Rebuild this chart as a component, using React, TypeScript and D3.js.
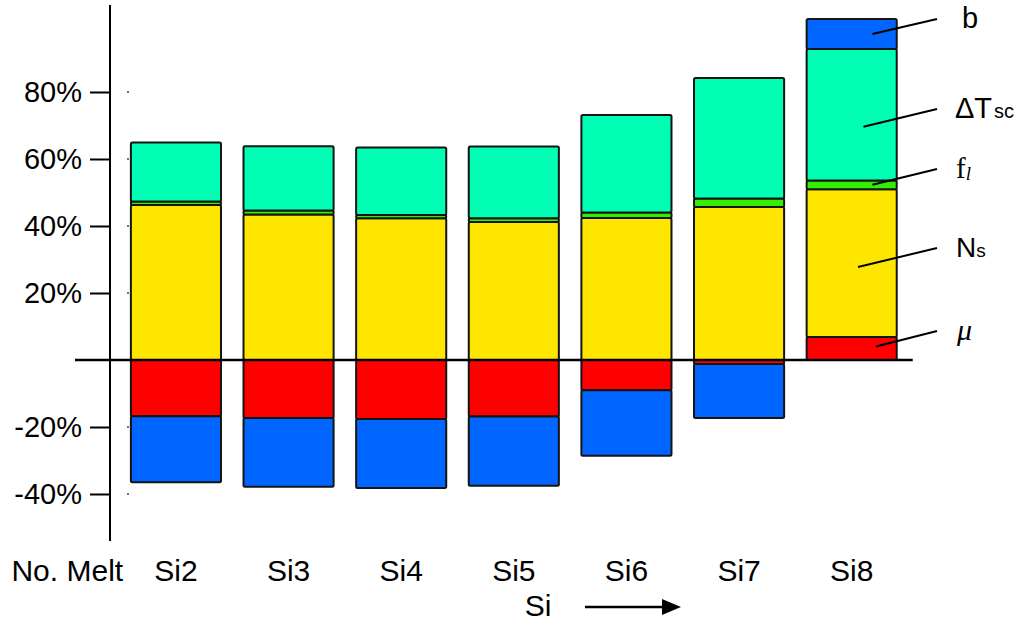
import * as d3 from "d3";
import { useRef, useEffect } from "react";

// categories on the x axis ("No. Melt" is an empty slot)
const categories = ["No. Melt", "Si2", "Si3", "Si4", "Si5", "Si6", "Si7", "Si8"];
const melts = ["Si2", "Si3", "Si4", "Si5", "Si6", "Si7", "Si8"];

// contributions in %
const mu = [-16.8, -17.3, -17.6, -16.9, -9.0, -1.2, 6.9];
const Ns = [46.3, 43.4, 42.3, 41.2, 42.4, 45.7, 44.1];
const fl = [1.0, 1.2, 1.0, 1.1, 1.6, 2.5, 2.6];
const dTsc = [17.6, 19.2, 20.1, 21.4, 29.1, 36.0, 39.2];
const b = [-19.7, -20.5, -20.6, -20.6, -19.6, -16.1, 9.0];

const keys = ["mu", "Ns", "fl", "dTsc", "b"];
const tickValues = [-40, -20, 20, 40, 60, 80];

const colors: Record<string, string> = {
  mu: "#ff0000",
  Ns: "#ffe600",
  fl: "#33ee00",
  dTsc: "#00ffb4",
  b: "#0066ff",
};

type Row = { melt: string; [k: string]: number | string };

export default function App() {
  const ref = useRef<SVGSVGElement | null>(null);
  const width = 1024;
  const height = 622;

  useEffect(() => {
    const svg = d3.select(ref.current);
    svg.selectAll("*").remove();

    const rows: Row[] = melts.map((m, i) => ({
      melt: m,
      mu: mu[i],
      Ns: Ns[i],
      fl: fl[i],
      dTsc: dTsc[i],
      b: b[i],
    }));

    const x = d3
      .scaleBand()
      .domain(categories)
      .range([7, 908])
      .paddingInner(0.2)
      .paddingOuter(0.1);

    const y = d3.scaleLinear().domain([-40, 80]).range([494, 92]);

    const axisX = 110;
    const sans = "Liberation Sans, Arial, sans-serif";
    const serif = "Liberation Serif, Times New Roman, serif";

    const series = d3
      .stack<Row>()
      .keys(keys)
      .value((d, k) => d[k] as number)
      .offset(d3.stackOffsetDiverging)(rows);

    // bars
    svg
      .append("g")
      .selectAll("g")
      .data(series)
      .join("g")
      .attr("fill", (s) => colors[s.key])
      .selectAll("rect")
      .data((s) => s)
      .join("rect")
      .attr("x", (d) => x(d.data.melt)!)
      .attr("width", x.bandwidth())
      .attr("y", (d) => y(Math.max(d[0], d[1])))
      .attr("height", (d) => Math.abs(y(d[0]) - y(d[1])))
      .attr("rx", 1.5)
      .attr("stroke", "#141414")
      .attr("stroke-width", 2);

    // vertical axis
    svg
      .append("line")
      .attr("x1", axisX)
      .attr("x2", axisX)
      .attr("y1", y(106))
      .attr("y2", y(-54))
      .attr("stroke", "#000")
      .attr("stroke-width", 2);

    const ax = svg
      .append("g")
      .attr("transform", `translate(${axisX},0)`)
      .call(
        d3
          .axisLeft(y)
          .tickValues(tickValues)
          .tickSize(20)
          .tickPadding(8)
          .tickFormat((d) => `${d}%`),
      );
    ax.select(".domain").remove();
    ax.selectAll(".tick line").attr("stroke-width", 2);
    ax.selectAll(".tick text")
      .attr("font-family", sans)
      .attr("font-size", 29)
      .attr("fill", "#000");

    // little grid dots next to the axis
    svg
      .append("g")
      .selectAll("circle")
      .data(tickValues)
      .join("circle")
      .attr("cx", axisX + 18)
      .attr("cy", (d) => y(d))
      .attr("r", 1.1)
      .attr("fill", "#555");

    // zero line
    svg
      .append("line")
      .attr("x1", 75)
      .attr("x2", x("Si8")! + x.bandwidth() + 16)
      .attr("y1", y(0))
      .attr("y2", y(0))
      .attr("stroke", "#000")
      .attr("stroke-width", 2.5);

    // category labels
    svg
      .append("g")
      .selectAll("text")
      .data(categories)
      .join("text")
      .attr("x", (d) => x(d)! + x.bandwidth() / 2 + (d === "No. Melt" ? 4 : 0))
      .attr("y", 581)
      .attr("text-anchor", "middle")
      .attr("font-family", sans)
      .attr("font-size", 30)
      .text((d) => d);

    // "Si ->" axis title
    svg
      .append("text")
      .attr("x", 538)
      .attr("y", 616)
      .attr("text-anchor", "middle")
      .attr("font-family", sans)
      .attr("font-size", 30)
      .text("Si");
    svg
      .append("line")
      .attr("x1", 585)
      .attr("x2", 664)
      .attr("y1", 607)
      .attr("y2", 607)
      .attr("stroke", "#000")
      .attr("stroke-width", 2.5);
    svg
      .append("path")
      .attr("d", "M662,599 L681,607 L662,615 Z")
      .attr("fill", "#000");

    // series labels with leader lines on the Si8 bar
    const last = series.map((s) => s[s.length - 1]);
    const bx = x("Si8")!;
    const bw = x.bandwidth();
    const labelLayout: Record<string, { fx: number; ty: number; dy: number }> = {
      b: { fx: 0.73, ty: 28, dy: 0 },
      dTsc: { fx: 0.63, ty: 118, dy: 12 },
      fl: { fx: 0.73, ty: 178, dy: 0 },
      Ns: { fx: 0.57, ty: 257, dy: 4 },
      mu: { fx: 0.77, ty: 340, dy: -2 },
    };
    const lbl = svg.append("g");
    keys.forEach((k, i) => {
      const d = last[i];
      const L = labelLayout[k];
      lbl
        .append("line")
        .attr("x1", bx + bw * L.fx)
        .attr("y1", y((d[0] + d[1]) / 2) + L.dy)
        .attr("x2", 937)
        .attr("y2", L.ty - 9)
        .attr("stroke", "#000")
        .attr("stroke-width", 2);
    });

    lbl
      .append("text")
      .attr("x", 962)
      .attr("y", 28)
      .attr("font-family", sans)
      .attr("font-size", 29)
      .text("b");

    const dt = lbl
      .append("text")
      .attr("x", 955)
      .attr("y", 118)
      .attr("font-family", sans)
      .attr("font-size", 29);
    dt.append("tspan").text("\u0394T");
    dt.append("tspan").attr("font-size", 20).attr("dx", 2).text("sc");

    const f = lbl
      .append("text")
      .attr("x", 956)
      .attr("y", 178)
      .attr("font-family", serif)
      .attr("font-size", 29);
    f.append("tspan").text("f");
    f.append("tspan").attr("font-size", 19).attr("font-style", "italic").attr("dy", 2).text("l");

    const n = lbl
      .append("text")
      .attr("x", 956)
      .attr("y", 257)
      .attr("font-family", sans)
      .attr("font-size", 28);
    n.append("tspan").text("N");
    n.append("tspan").attr("font-size", 19).text("s");

    lbl
      .append("text")
      .attr("x", 957)
      .attr("y", 340)
      .attr("font-family", serif)
      .attr("font-style", "italic")
      .attr("font-size", 30)
      .text("\u03bc");

    return () => {
      svg.selectAll("*").remove();
    };
  }, []);

  return (
    <svg
      ref={ref}
      width={width}
      height={height}
      style={{ position: "absolute", left: 0, top: 0, background: "#fff" }}
    />
  );
}
